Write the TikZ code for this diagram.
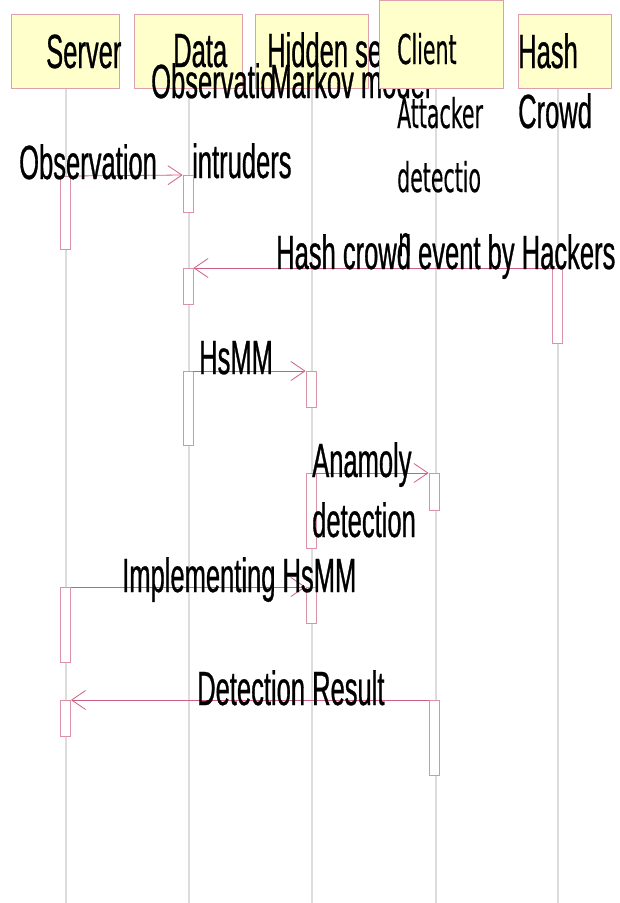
\documentclass[tikz,border=0pt]{standalone}
\usepackage{fontspec}
\usetikzlibrary{arrows.meta}
\newfontfamily\lblfont[FakeStretch=0.532, FakeBold=0.6]{Liberation Sans}
\newfontfamily\clifont[FakeStretch=0.5, FakeBold=0.3]{DejaVu Sans}

\definecolor{boxfill}{RGB}{255,255,204}
\definecolor{boxline}{RGB}{220,160,172}
\definecolor{msgline}{RGB}{204,96,128}
\definecolor{actline}{RGB}{218,146,166}
\definecolor{lifeline}{RGB}{220,220,220}

\tikzset{
  headbox/.style={draw=boxline, fill=boxfill, line width=0.9pt},
  life/.style={draw=lifeline, line width=1.3pt},
  actbox/.style={draw=actline, fill=white, line width=0.8pt, minimum width=10pt, inner sep=0pt, anchor=north},
  msg/.style={draw=msgline, line width=0.8pt, -{Straight Barb[length=14pt,width=19pt,line width=0.8pt]}},
  txt/.style={inner sep=0pt, anchor=base west, font=\lblfont\fontsize{48}{48}\selectfont},
  ctxt/.style={inner sep=0pt, anchor=base west, font=\clifont\fontsize{41}{41}\selectfont}
}

\begin{document}
\begin{tikzpicture}[x=1pt, y=-1pt]
\useasboundingbox (0,0) rectangle (619,903);

% lifelines
\coordinate (lsT) at (66,88);   \coordinate (lsB) at (66,903);
\coordinate (ldT) at (189,88);  \coordinate (ldB) at (189,903);
\coordinate (lhT) at (312,88);  \coordinate (lhB) at (312,903);
\coordinate (lcT) at (436,88);  \coordinate (lcB) at (436,903);
\coordinate (lkT) at (558,88);  \coordinate (lkB) at (558,903);
\draw[life] (lsT) -- (lsB);
\draw[life] (ldT) -- (ldB);
\draw[life] (lhT) -- (lhB);
\draw[life] (lcT) -- (lcB);
\draw[life] (lkT) -- (lkB);

% participant heads
\node[headbox, minimum width=108pt, minimum height=74pt, inner sep=0pt, anchor=north west] (server) at (11,14) {};
\node[headbox, minimum width=108pt, minimum height=74pt, inner sep=0pt, anchor=north west] (data) at (134,14) {};
\node[headbox, minimum width=113pt, minimum height=74pt, inner sep=0pt, anchor=north west] (hidden) at (255,14) {};

\node[txt] (tserver) at (46,68) {Server};
\node[txt] (tdata) at (173,67) {Data};
\node[txt] (tobs) at (151,98) {Observatio};
\node[txt] (tintr) at (192,178) {intruders};
\node[txt] (thid) at (267,67) {Hidden semi};
\node[txt] (tmark) at (270,98) {Markov model};

\node[headbox, minimum width=124pt, minimum height=88pt, inner sep=0pt, anchor=north west] (client) at (379,0) {};
\node[ctxt] (tclient) at (397,64) {Client};
\node[ctxt] (tatt) at (397,128) {Attacker};
\node[ctxt] (tdet) at (397,192) {detectio};
\node[ctxt] (tdetn) at (398,256) {n};

\node[headbox, minimum width=93pt, minimum height=74pt, inner sep=0pt, anchor=north west] (hash) at (518,14) {};
\node[txt] (thash) at (518,68) {Hash};
\node[txt] (tcrowd) at (518,128) {Crowd};

% activation bars
\node[actbox, minimum height=73pt] (aS1) at (65.5,176) {};
\node[actbox, minimum height=37pt] (aD1) at (188,175) {};
\node[actbox, minimum height=36pt] (aD2) at (188,268) {};
\node[actbox, minimum height=75pt] (aK1) at (557,268) {};
\node[actbox, minimum height=74pt] (aD3) at (188,371) {};
\node[actbox, minimum height=36pt] (aH1) at (311,371) {};
\node[actbox, minimum height=75pt] (aH2) at (311,473) {};
\node[actbox, minimum height=37pt] (aC1) at (434,473) {};
\node[actbox, minimum height=75pt] (aS2) at (65.5,587) {};
\node[actbox, minimum height=36pt] (aH3) at (311,587) {};
\node[actbox, minimum height=36pt] (aS3) at (65.5,700) {};
\node[actbox, minimum height=75pt] (aC2) at (434,700) {};

% messages
\draw[msg] (aS1.north east) -- (aD1.north west);
\draw[msg] (aK1.north west) -- (aD2.north east);
\draw[msg] (aD3.north east) -- (aH1.north west);
\draw[msg] (aH2.north east) -- (aC1.north west);
\draw[msg] (aS2.north east) -- (aH3.north west);
\draw[msg] (aC2.north west) -- (aS3.north east);

% message labels
\node[txt] (m1) at (19,179) {Observation};
\node[txt] (m2) at (276,269) {Hash crowd event by Hackers};
\node[txt] (m3) at (199,374) {HsMM};
\node[txt] (m4a) at (312,477) {Anamoly};
\node[txt] (m4b) at (312,537) {detection};
\node[txt] (m5) at (122,592) {Implementing HsMM};
\node[txt] (m6) at (197,705) {Detection Result};
\end{tikzpicture}
\end{document}
